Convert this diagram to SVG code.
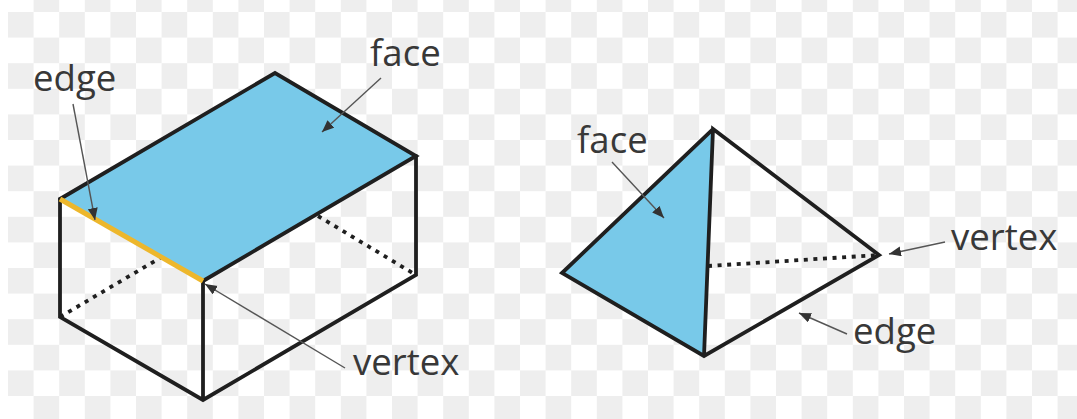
<svg xmlns="http://www.w3.org/2000/svg" width="1077" height="419" viewBox="0 0 1077 419">
<style>
.l{font-family:"Open Sans","Noto Sans",sans-serif;font-size:36.6px;fill:#383838}
.e{fill:none;stroke:#1f1f1f;stroke-width:3.8;stroke-linejoin:miter;stroke-linecap:round}
.d{fill:none;stroke:#1f1f1f;stroke-width:3.8;stroke-dasharray:4 5.6}
.a{fill:none;stroke:#555;stroke-width:1.4;marker-end:url(#h)}
.f{fill:#78c9e9}
</style>
<defs>
<pattern id="c" x="8" y="12" width="51.2" height="51.2" patternUnits="userSpaceOnUse">
<rect width="25.6" height="25.6" fill="#eeeeee"/>
<rect x="25.6" y="25.6" width="25.6" height="25.6" fill="#eeeeee"/>
</pattern>
<marker id="h" markerUnits="userSpaceOnUse" markerWidth="14" markerHeight="12" refX="12" refY="5" orient="auto">
<path d="M0 0L12 5L0 10Z" fill="#333"/>
</marker>
</defs>
<rect width="1077" height="419" fill="#fff"/>
<rect x="8" width="1069" height="419" fill="url(#c)"/>
<g id="box">
<polygon class="f" points="60,199 275,73 416,156 203,281"/>
<path class="d" d="M60 317L160 258M318 216L416 275"/>
<path d="M60 199V317L203 400L416 275V156M203 281V400" class="e"/>
<path d="M60 199L275 73L416 156L203 281" class="e"/>
<path d="M60 199L203 281" fill="none" stroke="#edb72c" stroke-width="5"/>
</g>
<g id="pyramid">
<polygon class="f" points="562,273 713,129 704,356"/>
<path class="d" d="M708 266L879 255"/>
<path d="M713 129L562 273L704 356L879 255L713 129L704 356" class="e"/>
</g>
<g id="connectors">
<path class="a" d="M73 104L95 220"/>
<path class="a" d="M381 78L322 132"/>
<path class="a" d="M345 368L205 284"/>
<path class="a" d="M612 162L664 218"/>
<path class="a" d="M945 242L889 254"/>
<path class="a" d="M847 334L799 313"/>
</g>
<g id="labels">
<text class="l" x="33" y="91">edge</text>
<text class="l" x="370" y="66">face</text>
<text class="l" x="353" y="375">vertex</text>
<text class="l" x="577" y="153">face</text>
<text class="l" x="951" y="250">vertex</text>
<text class="l" x="853" y="344">edge</text>
</g>
</svg>
